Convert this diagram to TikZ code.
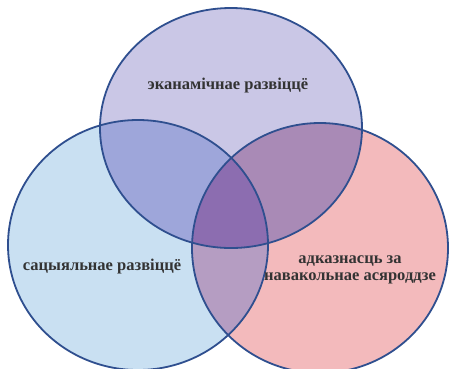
\documentclass[tikz,border=0pt]{standalone}
\usepackage{fontspec}
\setmainfont{Liberation Serif}
\usepackage{tikz}
\usetikzlibrary{positioning}
\definecolor{ringblue}{HTML}{2F4F8F}
\definecolor{econfill}{HTML}{CAC7E6}
\definecolor{socfill}{HTML}{C9E0F2}
\definecolor{envfill}{HTML}{F3BABC}
\definecolor{econsoc}{HTML}{9EA6DA}
\definecolor{econenv}{HTML}{A98AB6}
\definecolor{socenv}{HTML}{B59DC2}
\definecolor{allthree}{HTML}{8C6DB0}
\definecolor{labelgray}{HTML}{333333}
\newcommand{\econset}{(231,128) ellipse [x radius=131, y radius=120]}
\newcommand{\socset}{(138,245) ellipse [x radius=130, y radius=125]}
\newcommand{\envset}{(320,248) ellipse [x radius=128, y radius=125]}

\begin{document}
\begin{tikzpicture}[
    x=1pt, y=-1pt,
    ring/.style={draw=ringblue, line width=1.8pt},
    lbl/.style={font=\bfseries\fontsize{16.5}{17}\selectfont, text=labelgray, align=center, inner sep=0pt},
]
\useasboundingbox[fill=white] (0,0) rectangle (450,368);
% single sets
\fill[econfill] \econset;
\fill[socfill] \socset;
\fill[envfill] \envset;
% pairwise overlaps
\begin{scope}
  \clip \econset;
  \fill[econsoc] \socset;
  \fill[econenv] \envset;
\end{scope}
\begin{scope}
  \clip \socset;
  \fill[socenv] \envset;
  \clip \envset;
  \fill[allthree] \econset;
\end{scope}
% outlines
\draw[ring] \econset;
\draw[ring] \socset;
\draw[ring] \envset;
% labels
\node[lbl] (econ) at (228,86) {эканамічнае развіццё};
\node[lbl] (soc) at (102,267) {сацыяльнае развіццё};
\node[lbl] (env) at (350,270) {адказнасць за\\навакольнае асяроддзе};
\end{tikzpicture}
\end{document}
